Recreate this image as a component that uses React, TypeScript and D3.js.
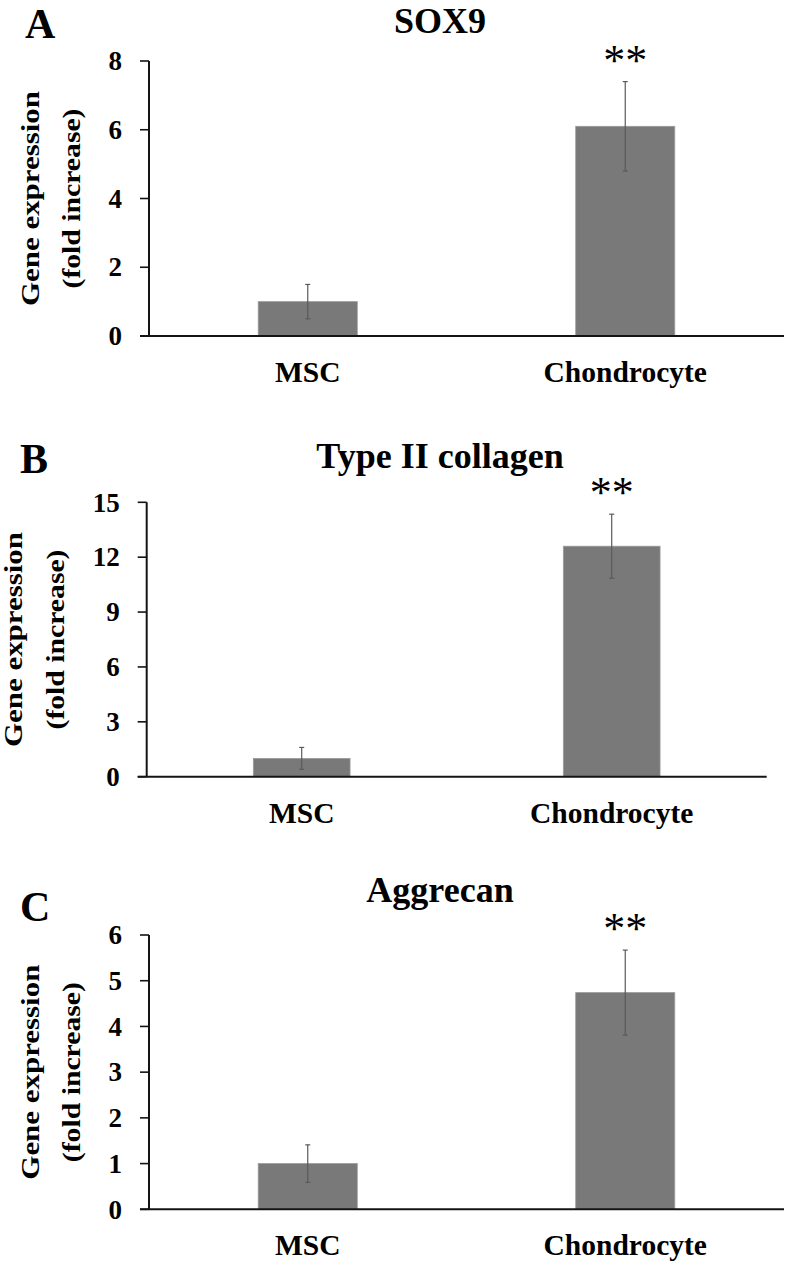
import React from "react";
import * as d3 from "d3";

// ---------- data ----------
const categories = ["MSC", "Chondrocyte"];
const geneTitles = ["SOX9", "Type II collagen", "Aggrecan"];
const panelLetters = ["A", "B", "C"];
const significance = ["", "**"];

const sox9Means = [1.0, 6.1];
const sox9Errors = [0.5, 1.3];
const sox9Ticks = [0, 2, 4, 6, 8];

const col2Means = [1.0, 12.6];
const col2Errors = [0.6, 1.75];
const col2Ticks = [0, 3, 6, 9, 12, 15];

const aggMeans = [1.0, 4.74];
const aggErrors = [0.41, 0.93];
const aggTicks = [0, 1, 2, 3, 4, 5, 6];

const yLabelLines = ["Gene expression", "(fold increase)"];

// ---------- layout ----------
const W = 786;
const H = 1265;
const FONT = "'Liberation Serif', 'Times New Roman', Times, serif";

const panels = [
  {
    letter: panelLetters[0], title: geneTitles[0], means: sox9Means, errors: sox9Errors, ticks: sox9Ticks,
    x0: 149, x1: 784, yTop: 61, yBot: 336, titleY: 33, letterX: 25, letterY: 38, lab1X: 38.5, lab2X: 80,
  },
  {
    letter: panelLetters[1], title: geneTitles[1], means: col2Means, errors: col2Errors, ticks: col2Ticks,
    x0: 146.7, x1: 766.7, yTop: 502.3, yBot: 776.7, titleY: 468, letterX: 20, letterY: 473, lab1X: 21.5, lab2X: 64,
  },
  {
    letter: panelLetters[2], title: geneTitles[2], means: aggMeans, errors: aggErrors, ticks: aggTicks,
    x0: 149, x1: 784, yTop: 935, yBot: 1209.3, titleY: 901.5, letterX: 20, letterY: 921, lab1X: 38.5, lab2X: 80,
  },
];

function Panel({ p }: { p: any }) {
  const x = d3
    .scaleBand<string>()
    .domain(categories)
    .range([p.x0, p.x1])
    .paddingInner(0.688)
    .paddingOuter(0.344);
  const y = d3
    .scaleLinear()
    .domain([0, d3.max(p.ticks as number[]) as number])
    .range([p.yBot, p.yTop]);
  const bw = x.bandwidth();
  const cy = (p.yTop + p.yBot) / 2;
  const axisColor = "#141414";
  return (
    <g>
      {/* panel letter */}
      <text x={p.letterX} y={p.letterY} fontFamily={FONT} fontWeight="bold" fontSize={42} fill="#000">
        {p.letter}
      </text>
      {/* title */}
      <text x={440} y={p.titleY} textAnchor="middle" fontFamily={FONT} fontWeight="bold" fontSize={36} fill="#000">
        {p.title}
      </text>
      {/* y label */}
      <text
        transform={`translate(${p.lab1X},${cy}) rotate(-90)`}
        textAnchor="middle"
        fontFamily={FONT}
        fontWeight="bold"
        fontSize={25}
        textLength={215}
        lengthAdjust="spacingAndGlyphs"
      >
        {yLabelLines[0]}
      </text>
      <text
        transform={`translate(${p.lab2X},${cy}) rotate(-90)`}
        textAnchor="middle"
        fontFamily={FONT}
        fontWeight="bold"
        fontSize={25}
        textLength={180}
        lengthAdjust="spacingAndGlyphs"
      >
        {yLabelLines[1]}
      </text>
      {/* bars */}
      {categories.map((c, i) => (
        <rect
          key={c}
          x={x(c)}
          y={y(p.means[i])}
          width={bw}
          height={y(0) - y(p.means[i])}
          fill="#797979"
          stroke="#9a9a9a"
          strokeWidth={0.8}
        />
      ))}
      {/* error bars */}
      {categories.map((c, i) => {
        const cx = (x(c) as number) + bw / 2;
        const hi = y(p.means[i] + p.errors[i]);
        const lo = y(p.means[i] - p.errors[i]);
        return (
          <g key={"e" + c} stroke="#5a5a5a" strokeWidth={1.2}>
            <line x1={cx} x2={cx} y1={hi} y2={lo} />
            <line x1={cx - 2.5} x2={cx + 2.5} y1={hi} y2={hi} />
            <line x1={cx - 2.5} x2={cx + 2.5} y1={lo} y2={lo} />
          </g>
        );
      })}
      {/* significance */}
      {categories.map((c, i) =>
        significance[i] ? (
          <text
            key={"s" + c}
            x={(x(c) as number) + bw / 2}
            y={y(p.means[i] + p.errors[i]) - 7}
            textAnchor="middle"
            fontFamily={FONT}
            fontSize={44}
            fill="#000"
          >
            {significance[i]}
          </text>
        ) : null
      )}
      {/* y axis */}
      <line x1={p.x0} x2={p.x0} y1={y(d3.max(p.ticks as number[]) as number)} y2={p.yBot} stroke={axisColor} strokeWidth={2} />
      {p.ticks.map((t: number) => (
        <g key={"t" + t}>
          <line x1={p.x0 - 9} x2={p.x0} y1={y(t)} y2={y(t)} stroke={axisColor} strokeWidth={1.6} />
          <text
            x={p.x0 - 27}
            y={y(t) + 9.2}
            textAnchor="end"
            fontFamily={FONT}
            fontWeight="bold"
            fontSize={27}
            fill="#000"
          >
            {t}
          </text>
        </g>
      ))}
      {/* x axis */}
      <line x1={p.x0 - 9} x2={p.x1} y1={p.yBot} y2={p.yBot} stroke={axisColor} strokeWidth={2} />
      {categories.map((c) => (
        <text
          key={"c" + c}
          x={(x(c) as number) + bw / 2}
          y={p.yBot + 46}
          textAnchor="middle"
          fontFamily={FONT}
          fontWeight="bold"
          fontSize={29.5}
          fill="#000"
        >
          {c}
        </text>
      ))}
    </g>
  );
}

export default function App() {
  return (
    <svg
      width={W}
      height={H}
      viewBox={`0 0 ${W} ${H}`}
      style={{ position: "absolute", left: 0, top: 0, background: "#fff" }}
    >
      <rect x={0} y={0} width={W} height={H} fill="#fff" />
      {panels.map((p) => (
        <Panel key={p.letter} p={p} />
      ))}
    </svg>
  );
}
